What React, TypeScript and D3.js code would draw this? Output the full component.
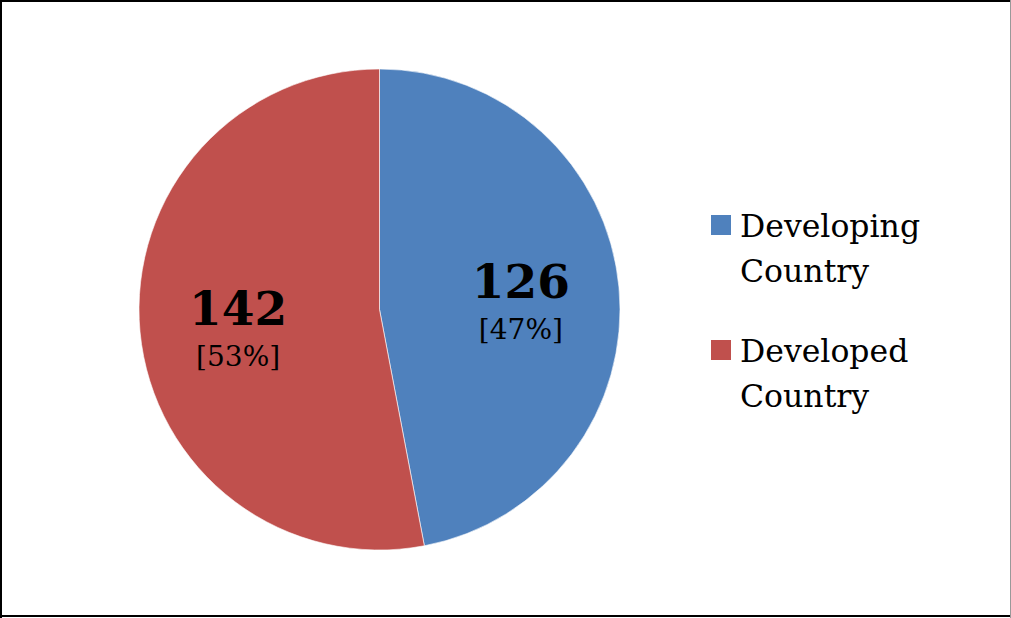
import React, { useEffect, useRef } from 'react';
import * as d3 from 'd3';

const categories = ['Developing Country', 'Developed Country'];
const counts = [126, 142];
const percentLabels = ['[47%]', '[53%]'];
const colors = ['#4F81BD', '#C0504D'];
const legendLines = [['Developing', 'Country'], ['Developed', 'Country']];

const W = 1011;
const H = 618;

const App: React.FC = () => {
  const svgRef = useRef<SVGSVGElement>(null);

  useEffect(() => {
    document.body.style.margin = '0';
    if (!svgRef.current) return;
    const svg = d3.select(svgRef.current);
    svg.selectAll('*').remove();

    svg.append('rect').attr('width', W).attr('height', H).attr('fill', '#fff');

    // frame
    svg.append('line').attr('x1', 0).attr('x2', W).attr('y1', 1).attr('y2', 1)
      .attr('stroke', '#000').attr('stroke-width', 2);
    svg.append('line').attr('x1', 1).attr('x2', 1).attr('y1', 0).attr('y2', H)
      .attr('stroke', '#000').attr('stroke-width', 2);
    svg.append('line').attr('x1', 0).attr('x2', W).attr('y1', 616).attr('y2', 616)
      .attr('stroke', '#000').attr('stroke-width', 2);
    svg.append('line').attr('x1', 1010.5).attr('x2', 1010.5).attr('y1', 0).attr('y2', H)
      .attr('stroke', '#999').attr('stroke-width', 1);

    const cx = 379.5;
    const cy = 309.5;
    const r = 240.5;

    const pie = d3.pie<number>().sort(null).value(d => d);
    const arcs = pie(counts);
    const arc = d3.arc<d3.PieArcDatum<number>>().innerRadius(0).outerRadius(r);
    const labelArc = d3.arc<d3.PieArcDatum<number>>().innerRadius(142).outerRadius(142);

    const g = svg.append('g').attr('transform', `translate(${cx},${cy})`);

    g.selectAll('path.slice')
      .data(arcs)
      .enter()
      .append('path')
      .attr('class', 'slice')
      .attr('d', arc)
      .attr('fill', (_, i) => colors[i])
      .attr('stroke', '#fff')
      .attr('stroke-width', 0.6);

    const labels = g.selectAll('g.label')
      .data(arcs)
      .enter()
      .append('g')
      .attr('class', 'label')
      .attr('transform', d => {
        const [x, y] = labelArc.centroid(d);
        return `translate(${x},${y})`;
      });

    labels.append('text')
      .attr('text-anchor', 'middle')
      .attr('y', 2)
      .attr('font-family', 'DejaVu Serif')
      .attr('font-weight', 'bold')
      .attr('font-size', 47)
      .attr('fill', '#000')
      .text(d => String(d.data));

    labels.append('text')
      .attr('text-anchor', 'middle')
      .attr('y', 43)
      .attr('font-family', 'DejaVu Serif')
      .attr('font-size', 28)
      .attr('fill', '#000')
      .text((_, i) => percentLabels[i]);

    // legend
    const legend = svg.selectAll('g.legend')
      .data(categories)
      .enter()
      .append('g')
      .attr('class', 'legend')
      .attr('transform', (_, i) => `translate(711,${215 + i * 125})`);

    legend.append('rect')
      .attr('width', 20)
      .attr('height', 20)
      .attr('fill', (_, i) => colors[i]);

    legend.each(function (_, i) {
      const t = d3.select(this).append('text')
        .attr('font-family', 'DejaVu Serif')
        .attr('font-size', 31.5)
        .attr('fill', '#000');
      legendLines[i].forEach((line, j) => {
        t.append('tspan')
          .attr('x', 29)
          .attr('y', 22 + j * 45)
          .text(line);
      });
    });
  }, []);

  return <svg ref={svgRef} width={W} height={H} style={{ display: 'block' }} />;
};

export default App;
